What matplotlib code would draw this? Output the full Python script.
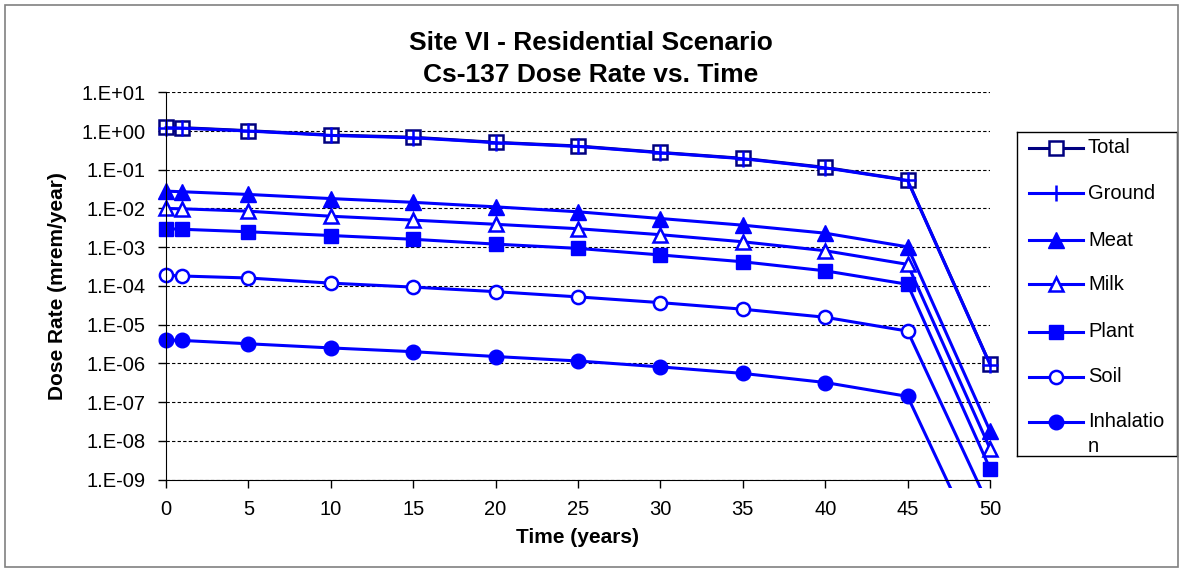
import numpy as np
import matplotlib
matplotlib.use("Agg")
import matplotlib.pyplot as plt
from matplotlib.patches import Rectangle

plt.rcParams['font.family'] = ['Liberation Sans', 'DejaVu Sans']

# --- data ---
years = [0, 1, 5, 10, 15, 20, 25, 30, 35, 40, 45, 50]
total = [1.25, 1.22, 1.02, 0.79, 0.69, 0.51, 0.41, 0.28, 0.197, 0.115, 0.054, 9.5e-7]
ground = [1.22, 1.19, 1.0, 0.77, 0.67, 0.50, 0.40, 0.275, 0.193, 0.112, 0.053, 9.3e-7]
meat = [0.028, 0.027, 0.023, 0.018, 0.0144, 0.011, 0.0082, 0.0055, 0.0037, 0.0023, 0.00102, 1.8e-8]
milk = [0.010, 0.0098, 0.0085, 0.0063, 0.0050, 0.0039, 0.0030, 0.0021, 0.00138, 0.00081, 0.00036, 6.3e-9]
plant = [0.0030, 0.0029, 0.0025, 0.0020, 0.0016, 0.0012, 0.00093, 0.00063, 0.00042, 0.000245, 0.00011, 1.9e-9]
soil = [1.9e-4, 1.8e-4, 1.6e-4, 1.18e-4, 9.3e-5, 7.1e-5, 5.2e-5, 3.7e-5, 2.5e-5, 1.55e-5, 6.8e-6, 1.8e-10]
inhal = [4.0e-6, 3.9e-6, 3.2e-6, 2.5e-6, 2.0e-6, 1.5e-6, 1.15e-6, 8.1e-7, 5.5e-7, 3.2e-7, 1.4e-7, 4e-12]

names = ["Total", "Ground", "Meat", "Milk", "Plant", "Soil", "Inhalation"]
series = [total, ground, meat, milk, plant, soil, inhal]

navy = "#000080"
blue = "#0000FF"
styles = [
    dict(color=navy, marker="s", ms=9.5, mfc="white", mec=navy, mew=1.8),
    dict(color=blue, marker="+", ms=11, mec=blue, mew=1.8),
    dict(color=blue, marker="^", ms=11, mfc=blue, mec=blue),
    dict(color=blue, marker="^", ms=10.5, mfc="white", mec=blue, mew=1.8),
    dict(color=blue, marker="s", ms=10, mfc=blue, mec=blue),
    dict(color=blue, marker="o", ms=9.5, mfc="white", mec=blue, mew=1.8),
    dict(color=blue, marker="o", ms=10.5, mfc=blue, mec=blue),
]

W, H = 1182, 569
fig = plt.figure(figsize=(W / 100, H / 100), dpi=100)

# outer chart border
fig.patches.append(Rectangle((5 / W, 2 / H), 1173 / W, 562 / H, transform=fig.transFigure,
                             fill=False, edgecolor="#808080", lw=1.2))

ax = fig.add_axes([166 / W, 1 - 479.5 / H, 824 / W, 387.2 / H])
ax.set_yscale("log")
ax.set_xlim(0, 50)
ax.set_ylim(1e-9, 1e1)

# let markers at x=0 / x=50 show fully and the steep drops run a bit past the axis
clip = Rectangle((-0.03, -0.022), 1.06, 1.05, transform=ax.transAxes, visible=False)
ax.add_patch(clip)
for vals, st in zip(series, styles):
    ln, = ax.plot(years, vals, lw=2.2, **st)
    ln.set_clip_path(clip)

ax.set_yticks([10.0 ** k for k in range(-9, 2)])
ax.set_yticklabels([f"1.E{k:+03d}" for k in range(-9, 2)])
ax.yaxis.set_minor_locator(matplotlib.ticker.NullLocator())
ax.set_xticks(range(0, 51, 5))
ax.tick_params(axis="both", labelsize=14.5, direction="out", length=6, width=1, pad=9)
ax.grid(axis="y", which="major", color="black", linestyle=(0, (3, 2)), lw=0.8)
ax.spines["top"].set_visible(False)
ax.spines["right"].set_visible(False)
ax.set_axisbelow(True)

ax.set_xlabel("Time (years)", fontsize=15, fontweight="bold", labelpad=6)
ax.set_ylabel("Dose Rate (mrem/year)", fontsize=15, fontweight="bold", labelpad=10)

fig.text(591 / W, 1 - 43 / H, "Site VI - Residential Scenario", ha="center", va="center",
         fontsize=19, fontweight="bold")
fig.text(591 / W, 1 - 75 / H, "Cs-137 Dose Rate vs. Time", ha="center", va="center",
         fontsize=19, fontweight="bold")

# legend drawn in its own box so the wrapped label gets cut like the original
lx0, ly0, lx1, ly1 = 1017, 132.3, 1177, 455.7
lg = fig.add_axes([lx0 / W, 1 - ly1 / H, (lx1 - lx0) / W, (ly1 - ly0) / H])
lg.set_xlim(0, lx1 - lx0)
lg.set_ylim(ly1 - ly0, 0)
lg.set_xticks([])
lg.set_yticks([])
for s in lg.spines.values():
    s.set_color("black")
    s.set_linewidth(1)
entry_y = [15.4, 61, 107.7, 152, 199.4, 244.4, 289.4]
for name, st, yy in zip(names, styles, entry_y):
    lg.plot([12, 66], [yy, yy], lw=2.2, color=st["color"])
    mst = dict(st)
    mst.pop("color")
    lg.plot([39], [yy], **mst)
    if name == "Inhalation":
        lg.text(71, yy, "Inhalatio", va="center", ha="left", fontsize=14.5, clip_on=True)
        lg.text(71, yy + 25, "n", va="center", ha="left", fontsize=14.5, clip_on=True)
    else:
        lg.text(71, yy, name, va="center", ha="left", fontsize=14.5, clip_on=True)

fig.savefig("out.png", dpi=100)
